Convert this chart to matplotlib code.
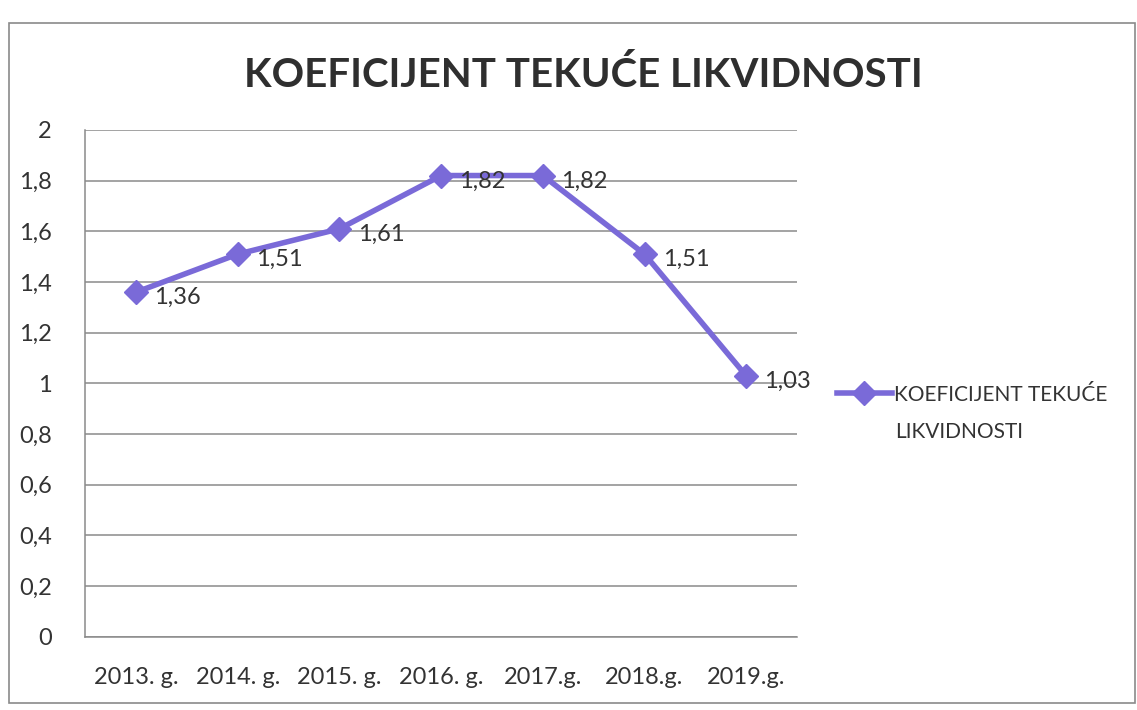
import matplotlib.pyplot as plt
from matplotlib.patches import Rectangle

years = ["2013. g.", "2014. g.", "2015. g.", "2016. g.", "2017.g.", "2018.g.", "2019.g."]
values = [1.36, 1.51, 1.61, 1.82, 1.82, 1.51, 1.03]
value_labels = ["1,36", "1,51", "1,61", "1,82", "1,82", "1,51", "1,03"]
y_ticks = [0, 0.2, 0.4, 0.6, 0.8, 1, 1.2, 1.4, 1.6, 1.8, 2]
y_tick_labels = ["0", "0,2", "0,4", "0,6", "0,8", "1", "1,2", "1,4", "1,6", "1,8", "2"]
series_name = ["KOEFICIJENT TEKUĆE", "LIKVIDNOSTI"]

plt.rcParams['font.family'] = ['Lato', 'DejaVu Sans']
LINE_COLOR = '#7a6ad8'
TEXT_COLOR = '#333333'


def main():
    fig = plt.figure(figsize=(11.37, 7.10), dpi=100)
    fig.patches.append(Rectangle((0.008, 0.01), 0.99, 0.958, transform=fig.transFigure,
                                 fill=False, edgecolor='#8a8a8a', linewidth=1.2))

    ax = fig.add_axes([0.075, 0.103, 0.626, 0.714])
    x = list(range(len(years)))
    line, = ax.plot(x, values, color=LINE_COLOR, linewidth=4, marker='D',
                    markersize=12, label=series_name[0], zorder=3)

    for xi, v, lab in zip(x, values, value_labels):
        ax.annotate(lab, (xi, v), xytext=(13, -4), textcoords='offset points',
                    ha='left', va='center', fontsize=17, color=TEXT_COLOR)

    ax.set_xlim(-0.5, len(years) - 0.5)
    ax.set_ylim(0, 2)
    ax.set_yticks(y_ticks)
    ax.set_yticklabels(y_tick_labels)
    ax.set_xticks(x)
    ax.set_xticklabels(years)
    ax.tick_params(axis='both', length=0, labelsize=17, colors=TEXT_COLOR)
    ax.tick_params(axis='y', pad=24)
    ax.tick_params(axis='x', pad=22)
    ax.yaxis.grid(True, color='#8a8a8a', linewidth=1.1)
    ax.set_axisbelow(True)
    for side in ['top', 'right']:
        ax.spines[side].set_visible(False)
    for side in ['left', 'bottom']:
        ax.spines[side].set_color('#8a8a8a')
        ax.spines[side].set_linewidth(1.1)

    fig.text(0.513, 0.895, "KOEFICIJENT TEKUĆE LIKVIDNOSTI", ha='center', va='center',
             fontsize=29, fontweight='bold', color='#2f2f2f')

    # legend: marker on the first line, second line of the name below it
    fig.legend(handles=[line], loc='center left', bbox_to_anchor=(0.72, 0.444),
               frameon=False, fontsize=15, handlelength=2.6, handletextpad=0.1,
               labelcolor=TEXT_COLOR)
    fig.text(0.787, 0.392, series_name[1], ha='left', va='center',
             fontsize=15, color=TEXT_COLOR)

    plt.savefig("out.png", dpi=100)


if __name__ == "__main__":
    main()
